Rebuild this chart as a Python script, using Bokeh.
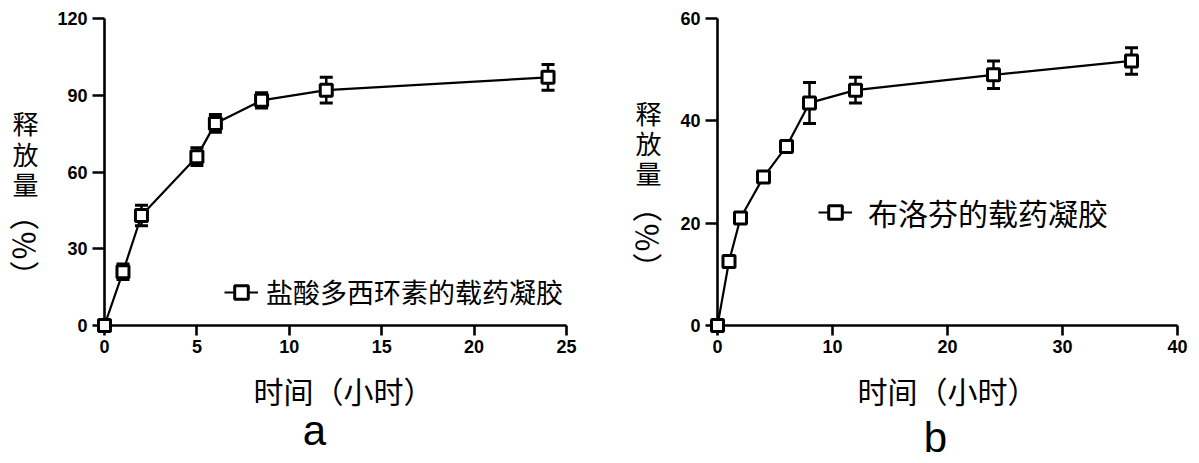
import math
from bokeh.plotting import figure
from bokeh.layouts import row
from bokeh.models import (ColumnDataSource, Whisker, TeeHead, FixedTicker,
                          Legend, LegendItem, Range1d)
from bokeh.core.properties import value
from bokeh.embed import file_html
from bokeh.resources import INLINE

# ---------------- data ----------------
# Panel a: doxycycline hydrochloride loaded gel
a_time = [0, 1, 2, 5, 6, 8.5, 12, 24]
a_release = [0, 21, 43, 66, 79, 88, 92, 97]
a_err = [0, 3, 4, 3.5, 3.5, 3, 5, 5]
a_xticks = [0, 5, 10, 15, 20, 25]
a_yticks = [0, 30, 60, 90, 120]
a_legend = "盐酸多西环素的载药凝胶"

# Panel b: ibuprofen loaded gel
b_time = [0, 1, 2, 4, 6, 8, 12, 24, 36]
b_release = [0, 12.5, 21, 29, 35, 43.5, 46, 49, 51.7]
b_err = [0, 1, 1, 1, 1, 4, 2.5, 2.7, 2.6]
b_xticks = [0, 10, 20, 30, 40]
b_yticks = [0, 20, 40, 60]
b_legend = "布洛芬的载药凝胶"

x_label = "时间（小时）"
y_label_chars = ["释", "放", "量"]
y_label_unit = "（％）"
panel_letters = ["a", "b"]

CJK = "Noto Sans CJK SC"
LAT = "Liberation Sans"
H = 461
TOP = 18
BOTTOM = 136


def make_panel(time, rel, err, xmax, ymax, xticks, yticks, legend_text,
               width, border_left, border_right, page_left,
               legend_loc, legend_font, legend_standoff,
               xlab_cx, xlab_cy,
               ylab_px, ylab_first_cy, ylab_step, unit_cy,
               letter, letter_px, letter_cy):
    p = figure(width=width, height=H, output_backend="svg", toolbar_location=None,
               x_range=Range1d(0, xmax), y_range=Range1d(0, ymax),
               min_border_left=border_left, min_border_right=border_right,
               min_border_top=TOP, min_border_bottom=BOTTOM)
    p.outline_line_color = None
    p.grid.visible = False
    p.background_fill_color = "white"
    p.border_fill_color = "white"

    frame_left = page_left + border_left
    frame_w = width - border_left - border_right
    frame_bottom = H - BOTTOM
    frame_h = H - TOP - BOTTOM

    def dx(px):
        return (px - frame_left) / frame_w * xmax

    def dy(py):
        return (frame_bottom - py) / frame_h * ymax

    src = ColumnDataSource(dict(
        x=time, y=rel,
        lower=[v - e for v, e in zip(rel, err)],
        upper=[v + e for v, e in zip(rel, err)]))

    r_line = p.line("x", "y", source=src, line_color="black", line_width=2.2)
    wh = Whisker(source=src, base="x", lower="lower", upper="upper",
                 line_color="black", line_width=2.5,
                 upper_head=TeeHead(size=13, line_width=3, line_color="black"),
                 lower_head=TeeHead(size=13, line_width=3, line_color="black"))
    p.add_layout(wh)
    r_pts = p.scatter("x", "y", source=src, marker="square", size=12,
                      fill_color="white", line_color="black", line_width=3,
                      level="overlay")

    legend = Legend(items=[LegendItem(label=legend_text, renderers=[r_line, r_pts])],
                    location=legend_loc, glyph_width=34, glyph_height=34,
                    label_height=34, label_standoff=legend_standoff, padding=0, margin=0,
                    label_text_font=CJK, label_text_font_size=legend_font,
                    label_text_color="black", background_fill_alpha=0,
                    border_line_alpha=0)
    p.add_layout(legend)

    for ax in (p.xaxis[0], p.yaxis[0]):
        ax.axis_line_width = 2.6
        ax.axis_line_color = "black"
        ax.major_tick_line_width = 2.6
        ax.major_tick_line_color = "black"
        ax.major_tick_in = 0
        ax.minor_tick_line_color = None
        ax.major_label_text_font = LAT
        ax.major_label_text_font_style = "bold"
        ax.major_label_text_font_size = "18px"
        ax.major_label_text_color = "black"
    p.xaxis.ticker = FixedTicker(ticks=xticks)
    p.yaxis.ticker = FixedTicker(ticks=yticks)
    p.xaxis.major_tick_out = 10
    p.yaxis.major_tick_out = 12
    p.xaxis.major_label_standoff = 4
    p.yaxis.major_label_standoff = 5

    # x-axis title
    p.text(x=[dx(xlab_cx)], y=[dy(xlab_cy)], text=[x_label],
           text_align="center", text_baseline="middle",
           text_font=value(CJK), text_font_size=value("30px"), text_color="black",
           level="overlay")
    # vertical y-axis title: upright CJK characters, then the rotated "（％）"
    n = len(y_label_chars)
    p.text(x=[dx(ylab_px)] * n,
           y=[dy(ylab_first_cy + i * ylab_step) for i in range(n)],
           text=y_label_chars,
           text_align="center", text_baseline="middle",
           text_font=value(CJK), text_font_size=value("26px"), text_color="black",
           level="overlay")
    p.text(x=[dx(ylab_px)], y=[dy(unit_cy)], text=[y_label_unit],
           angle=-math.pi / 2, text_align="center", text_baseline="middle",
           text_font=value(CJK), text_font_size=value("30px"), text_color="black",
           level="overlay")
    # panel letter
    p.text(x=[dx(letter_px)], y=[dy(letter_cy)], text=[letter],
           text_align="center", text_baseline="middle",
           text_font=value(LAT), text_font_size=value("42px"), text_color="black",
           level="overlay")
    return p


pa = make_panel(a_time, a_release, a_err, 25, 120, a_xticks, a_yticks, a_legend,
                width=600, border_left=104, border_right=34, page_left=0,
                legend_loc=(120, 14), legend_font="27px", legend_standoff=8,
                xlab_cx=343, xlab_cy=389,
                ylab_px=25, ylab_first_cy=122, ylab_step=30.5, unit_cy=245,
                letter=panel_letters[0], letter_px=314, letter_cy=430)
pb = make_panel(b_time, b_release, b_err, 40, 60, b_xticks, b_yticks, b_legend,
                width=595, border_left=117, border_right=18, page_left=600,
                legend_loc=(101, 91), legend_font="30px", legend_standoff=16,
                xlab_cx=947, xlab_cy=389,
                ylab_px=648, ylab_first_cy=112, ylab_step=30, unit_cy=237,
                letter=panel_letters[1], letter_px=935, letter_cy=437)

layout = row(pa, pb)
open("out.html", "w").write(file_html(layout, INLINE))
